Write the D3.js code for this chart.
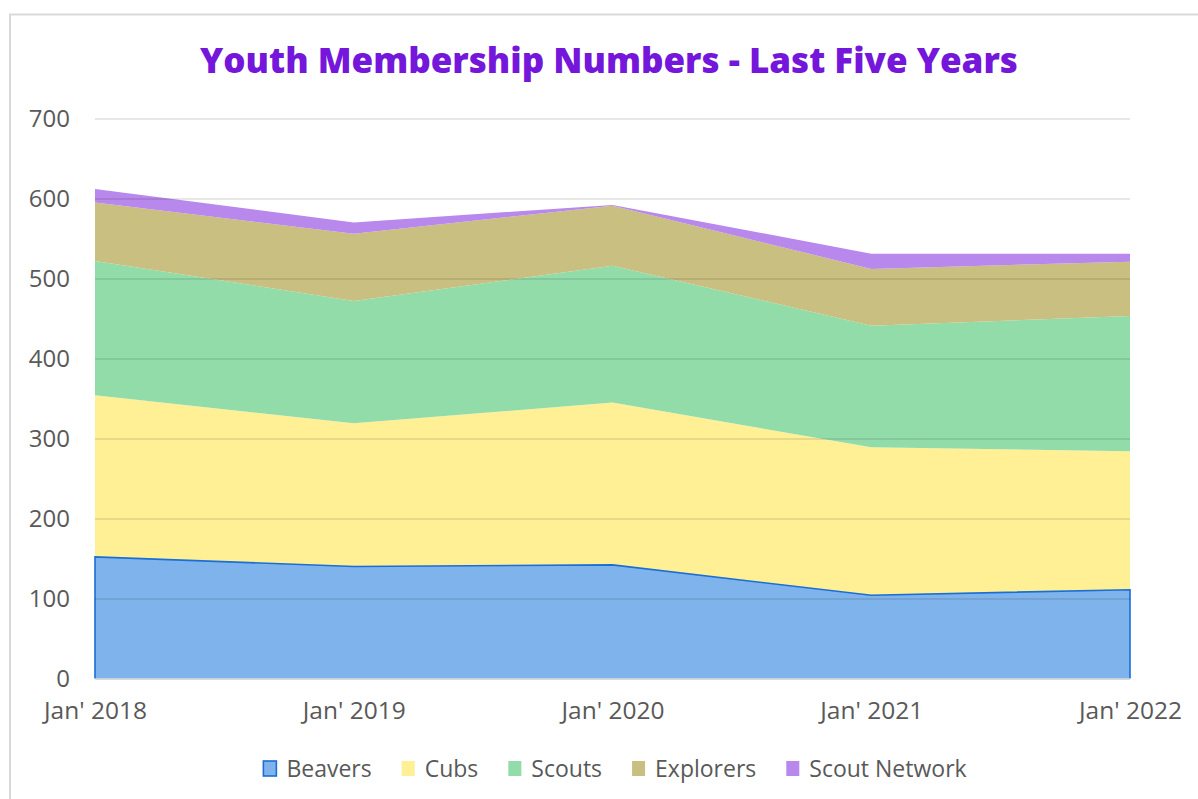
<!DOCTYPE html>
<html>
<head>
<meta charset="utf-8">
<script src="https://cdn.jsdelivr.net/npm/d3@7"></script>
<style>
  html, body { margin: 0; padding: 0; background: #fff; }
  svg { display: block; }
  text { font-family: "Open Sans", "Noto Sans", sans-serif; }
</style>
</head>
<body>
<svg id="chart" width="1198" height="799"></svg>
<script>
// ---- data ----
const categories = ["Jan' 2018", "Jan' 2019", "Jan' 2020", "Jan' 2021", "Jan' 2022"];
const seriesNames = ["Beavers", "Cubs", "Scouts", "Explorers", "Scout Network"];
const beavers      = [152, 140, 142, 104, 111];
const cubs         = [202, 179, 203, 185, 173];
const scouts       = [168, 153, 171, 152, 169];
const explorers    = [73, 84, 75, 71, 68];
const scoutNetwork = [17, 14, 1, 19, 10];
const yTicks = [0, 100, 200, 300, 400, 500, 600, 700];
const titleText = "Youth Membership Numbers - Last Five Years";

const colors = ["#7fb3ec", "#fff096", "#92dcaa", "#c8bf80", "#b888ec"];

const seriesValues = [beavers, cubs, scouts, explorers, scoutNetwork];
const rows = categories.map((c, i) => {
  const r = { cat: c };
  seriesNames.forEach((s, j) => r[s] = seriesValues[j][i]);
  return r;
});

const svg = d3.select("#chart");
const W = 1198, H = 799;
const margin = { left: 95, right: W - 1130, top: 118.5, bottom: H - 678.5 };

// chart frame
svg.append("rect").attr("x", 10).attr("y", 14.5).attr("width", 1210).attr("height", 820)
  .attr("fill", "#fff").attr("stroke", "#d9d9d9").attr("stroke-width", 2);

const x = d3.scalePoint().domain(categories).range([margin.left, W - margin.right]);
const y = d3.scaleLinear().domain([0, 700]).range([H - margin.bottom, margin.top]);

const stack = d3.stack().keys(seriesNames);
const stacked = stack(rows);

const area = d3.area()
  .x(d => x(d.data.cat))
  .y0(d => y(d[0]))
  .y1(d => y(d[1]));

const g = svg.append("g");
g.selectAll("path.area").data(stacked).join("path")
  .attr("class", "area")
  .attr("d", area)
  .attr("fill", (d, i) => colors[i]);

// Beavers outline (left edge, top, right edge)
const b = stacked[0];
const outline = d3.line().x(d => d[0]).y(d => d[1]);
const pts = [[x(categories[0]), y(0)]]
  .concat(b.map(d => [x(d.data.cat), y(d[1])]))
  .concat([[x(categories[categories.length - 1]), y(0)]]);
g.append("path").attr("d", outline(pts)).attr("fill", "none")
  .attr("stroke", "#1a6ed6").attr("stroke-width", 1.6);

// gridlines on top
const yAxis = d3.axisLeft(y).tickValues(yTicks).tickSize(-(W - margin.left - margin.right)).tickFormat(d3.format("d"));
const ya = svg.append("g").attr("transform", `translate(${margin.left},0)`).call(yAxis);
ya.select(".domain").remove();
ya.selectAll(".tick line").attr("stroke", "rgba(0,0,0,0.13)").attr("stroke-width", 1.5);
ya.selectAll(".tick line").filter(d => d === 0).attr("stroke", "#c8ccd4");
ya.selectAll(".tick text").attr("x", 70 - margin.left).attr("dy", null)
  .attr("dominant-baseline", "central").attr("y", -1.5)
  .attr("fill", "#595959").attr("font-size", 24).attr("text-anchor", "end");

// x axis
const xAxis = d3.axisBottom(x).tickSize(0).tickPadding(0);
const xa = svg.append("g").attr("transform", `translate(0,${y(0)})`).call(xAxis);
xa.select(".domain").remove();
xa.selectAll(".tick text").attr("y", 40).attr("dy", null)
  .attr("fill", "#595959").attr("font-size", 24.5);

// title
const title = svg.append("text").attr("x", 609).attr("y", 73)
  .attr("text-anchor", "middle").attr("font-weight", 800).attr("font-size", 34)
  .attr("fill", "#7516db").text(titleText);
const tw = title.node().getComputedTextLength();
title.attr("font-size", 34 * 818 / tw);

// legend
const lg = svg.append("g");
let cx = 0;
seriesNames.forEach((s, i) => {
  const it = lg.append("g");
  it.append("rect").attr("x", 0).attr("y", -7).attr("width", 13).attr("height", 15)
    .attr("fill", colors[i])
    .attr("stroke", i === 0 ? "#1a6ed6" : "none").attr("stroke-width", 1.6);
  const t = it.append("text").attr("x", 23).attr("y", 0).attr("dominant-baseline", "central")
    .attr("fill", "#595959").attr("font-size", 23).text(s);
  const w = 23 + t.node().getComputedTextLength();
  it.attr("transform", `translate(${cx},0)`);
  cx += w + 30;
});
const totalW = cx - 30;
lg.attr("transform", `translate(${615 - totalW / 2},768)`);
</script>
</body>
</html>
